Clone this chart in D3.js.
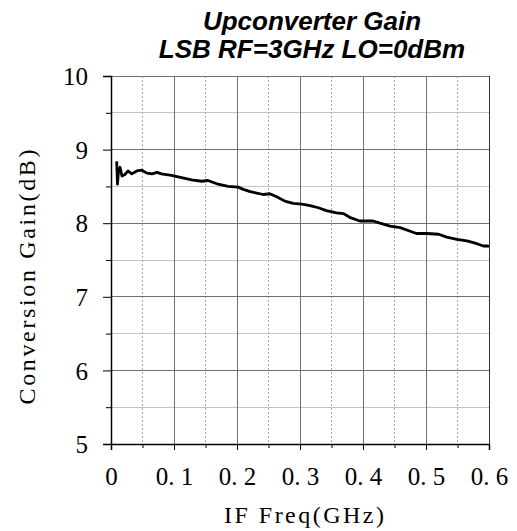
<!DOCTYPE html>
<html>
<head>
<meta charset="utf-8">
<script src="https://cdn.jsdelivr.net/npm/d3@7"></script>
<style>
  html, body { margin: 0; padding: 0; background: #fff; }
  svg { display: block; }
</style>
</head>
<body>
<div id="chart"></div>
<script>
  // 标题与坐标轴文字
  var titleLines = ['Upconverter Gain', 'LSB RF=3GHz LO=0dBm']
  var xLabel = 'IF Freq(GHz)'
  var yLabel = 'Conversion Gain(dB)'

  // 刻度
  var xTicks = [0, 0.1, 0.2, 0.3, 0.4, 0.5, 0.6]
  var xTickLabels = ['0', '0. 1', '0. 2', '0. 3', '0. 4', '0. 5', '0. 6']
  var xMinorTicks = [0.05, 0.15, 0.25, 0.35, 0.45, 0.55]
  var yTicks = [5, 6, 7, 8, 9, 10]
  var yMinorTicks = [5.5, 6.5, 7.5, 8.5, 9.5]

  // 曲线数据 (GHz, dB)
  var freqData = [0.009, 0.0103, 0.012, 0.0143, 0.0175, 0.022, 0.027, 0.033, 0.041, 0.049,
    0.057, 0.065, 0.073, 0.080, 0.096, 0.112, 0.128, 0.144, 0.154, 0.170,
    0.186, 0.202, 0.210, 0.221, 0.231, 0.242, 0.252, 0.263, 0.276, 0.289,
    0.303, 0.316, 0.329, 0.342, 0.358, 0.369, 0.379, 0.395, 0.406, 0.416,
    0.427, 0.443, 0.459, 0.475, 0.485, 0.501, 0.520, 0.533, 0.549, 0.565,
    0.578, 0.591, 0.598, 0.600]
  var gainData = [8.84, 8.53, 8.72, 8.76, 8.64, 8.66, 8.71, 8.67, 8.71, 8.72,
    8.68, 8.67, 8.69, 8.67, 8.65, 8.62, 8.59, 8.57, 8.58, 8.53,
    8.50, 8.49, 8.46, 8.43, 8.41, 8.39, 8.40, 8.36, 8.30, 8.27,
    8.26, 8.24, 8.21, 8.17, 8.14, 8.13, 8.08, 8.03, 8.03, 8.03,
    8.00, 7.96, 7.94, 7.89, 7.86, 7.86, 7.85, 7.81, 7.78, 7.76,
    7.73, 7.69, 7.69, 7.68]

  /**
   *  默认配置项
   */
  var config = {
    width: 517,
    height: 531,
    plot: { left: 111, right: 489, top: 76, bottom: 444 },
    tickFont: '"Liberation Serif", "DejaVu Serif", serif',
    labelFont: '"Liberation Serif", "DejaVu Serif", serif',
    titleFont: '"Liberation Sans", Arial, sans-serif'
  }

  function drawCharts(id) {
    var p = config.plot
    var svg = d3.select(id).append('svg')
      .attr('width', config.width)
      .attr('height', config.height)

    var x = d3.scaleLinear().domain([0, 0.6]).range([p.left, p.right])
    var y = d3.scaleLinear().domain([5, 10]).range([p.bottom, p.top])

    // 网格线
    var grid = svg.append('g').attr('shape-rendering', 'crispEdges')
    grid.selectAll('.y-minor').data(yMinorTicks).enter().append('line')
      .attr('x1', p.left).attr('x2', p.right)
      .attr('y1', function(d) { return y(d) }).attr('y2', function(d) { return y(d) })
      .attr('stroke', '#c4c4c4')
    grid.selectAll('.x-minor').data(xMinorTicks).enter().append('line')
      .attr('x1', function(d) { return x(d) }).attr('x2', function(d) { return x(d) })
      .attr('y1', p.top).attr('y2', p.bottom)
      .attr('stroke', '#a8a8a8')
      .attr('stroke-dasharray', '2,2')
    grid.selectAll('.y-major').data(yTicks).enter().append('line')
      .attr('x1', p.left).attr('x2', p.right)
      .attr('y1', function(d) { return y(d) }).attr('y2', function(d) { return y(d) })
      .attr('stroke', '#707070')
    grid.selectAll('.x-major').data(xTicks).enter().append('line')
      .attr('x1', function(d) { return x(d) }).attr('x2', function(d) { return x(d) })
      .attr('y1', p.top).attr('y2', p.bottom)
      .attr('stroke', function(d, i) { return i === xTicks.length - 1 ? '#303030' : '#707070' })

    // 坐标轴
    var xAxis = d3.axisBottom(x).tickValues(xTicks).tickSize(6)
      .tickFormat(function(d, i) { return xTickLabels[i] })
    var gx = svg.append('g')
      .attr('transform', 'translate(0,' + p.bottom + ')')
      .call(xAxis)
    gx.select('.domain').attr('stroke', '#000').attr('stroke-width', 1.5)
    gx.selectAll('.tick line').attr('stroke', '#000')
    gx.selectAll('.tick text')
      .attr('y', 0).attr('dy', 0)
      .attr('transform', 'translate(0,41)')
      .attr('font-family', config.tickFont)
      .attr('font-size', 25)
      .attr('fill', '#000')
    svg.append('g')
      .attr('transform', 'translate(0,' + p.bottom + ')')
      .call(d3.axisBottom(x).tickValues(xMinorTicks).tickSize(4).tickFormat(''))
      .call(function(g) { g.select('.domain').remove() })

    var yAxis = d3.axisLeft(y).tickValues(yTicks).tickSize(8).tickFormat(d3.format('d'))
    var gy = svg.append('g')
      .attr('transform', 'translate(' + p.left + ',0)')
      .call(yAxis)
    gy.select('.domain').attr('stroke', '#000').attr('stroke-width', 1.5)
    gy.selectAll('.tick text')
      .attr('x', -23)
      .attr('dy', '0.35em')
      .attr('font-family', config.tickFont)
      .attr('font-size', 25)
      .attr('fill', '#000')
    svg.append('g')
      .attr('transform', 'translate(' + p.left + ',0)')
      .call(d3.axisLeft(y).tickValues(yMinorTicks).tickSize(5).tickFormat(''))
      .call(function(g) { g.select('.domain').remove() })

    // 曲线
    var points = freqData.map(function(f, i) { return [f, gainData[i]] })
    var line = d3.line()
      .x(function(d) { return x(d[0]) })
      .y(function(d) { return y(d[1]) })
    svg.append('path')
      .datum(points)
      .attr('d', line)
      .attr('fill', 'none')
      .attr('stroke', '#000')
      .attr('stroke-width', 2.8)
      .attr('stroke-linejoin', 'round')

    // 标题
    svg.selectAll('.title').data(titleLines).enter().append('text')
      .attr('x', 312)
      .attr('y', function(d, i) { return 30 + i * 28 })
      .attr('text-anchor', 'middle')
      .attr('font-family', config.titleFont)
      .attr('font-weight', 'bold')
      .attr('font-style', 'italic')
      .attr('font-size', 26)
      .text(function(d) { return d })

    // 轴标题 (等宽效果用 textLength 拉开字距)
    svg.append('text')
      .attr('x', 304)
      .attr('y', 523)
      .attr('text-anchor', 'middle')
      .attr('font-family', config.labelFont)
      .attr('font-size', 24)
      .attr('textLength', 160)
      .attr('lengthAdjust', 'spacing')
      .text(xLabel)
    svg.append('text')
      .attr('transform', 'translate(35,277) rotate(-90)')
      .attr('text-anchor', 'middle')
      .attr('font-family', config.labelFont)
      .attr('font-size', 24)
      .attr('textLength', 255)
      .attr('lengthAdjust', 'spacing')
      .text(yLabel)
  }

  drawCharts('#chart')
</script>
</body>
</html>
